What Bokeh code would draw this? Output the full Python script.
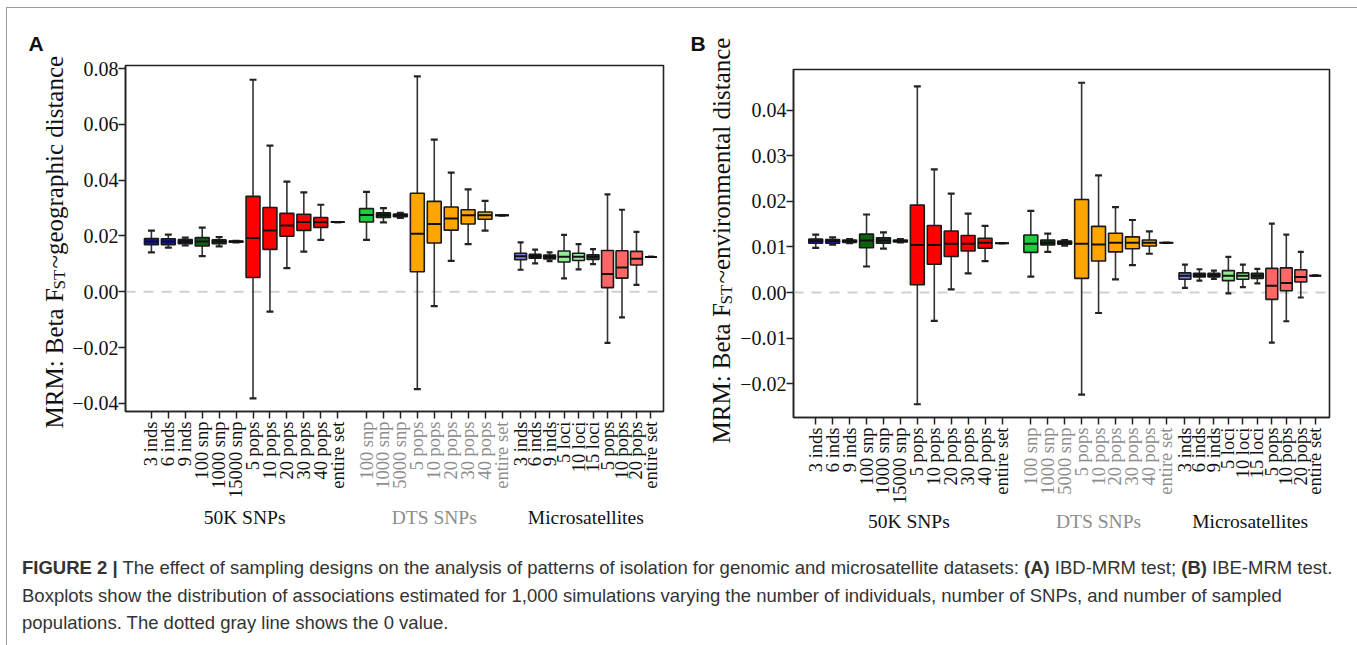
import numpy as np
from bokeh.plotting import figure
from bokeh.models import (ColumnDataSource, FixedTicker, Span, Div, Range1d, CustomJSTickFormatter)
from bokeh.layouts import row, column
from bokeh.embed import file_html
from bokeh.resources import INLINE
from bokeh.core.properties import value

# ---------------- data ----------------
group_names = ["50K SNPs", "DTS SNPs", "Microsatellites"]
labels_50k = ["3 inds", "6 inds", "9 inds", "100 snp", "1000 snp", "15000 snp",
              "5 pops", "10 pops", "20 pops", "30 pops", "40 pops", "entire set"]
labels_dts = ["100 snp", "1000 snp", "5000 snp", "5 pops", "10 pops", "20 pops",
              "30 pops", "40 pops", "entire set"]
labels_msat = ["3 inds", "6 inds", "9 inds", "5 loci", "10 loci", "15 loci",
               "5 pops", "10 pops", "20 pops", "entire set"]

colors_50k = ["#1212C4", "#1212C4", "#10102E", "#0A640A", "#0F3A0F", "#111111",
              "#FF0000", "#FF0000", "#FF0000", "#FF0000", "#FF0000", "#FF0000"]
colors_dts = ["#1FCC40", "#0F3A0F", "#111111", "#FFA500", "#FFA500", "#FFA500",
              "#FFA500", "#FFA500", "#FFA500"]
colors_msat = ["#7B7BDB", "#10102E", "#10102E", "#90EE90", "#90EE90", "#1E4A1E",
               "#FF6666", "#FF6666", "#FF6666", "#FF6666"]

# Panel A (IBD): whisker high, Q3, median, Q1, whisker low  (50K | DTS | Microsat)
A_high = [0.0219, 0.0205, 0.0194, 0.0230, 0.0196, 0.0183, 0.0760, 0.0524, 0.0395, 0.0356, 0.0312, 0.0250,
          0.0358, 0.0300, 0.0283, 0.0772, 0.0545, 0.0427, 0.0367, 0.0326, 0.0274,
          0.0177, 0.0151, 0.0141, 0.0204, 0.0171, 0.0153, 0.0349, 0.0294, 0.0215, 0.0125]
A_q3 = [0.0191, 0.0190, 0.0187, 0.0194, 0.0186, 0.0182, 0.0342, 0.0302, 0.0281, 0.0278, 0.0266, 0.0250,
        0.0298, 0.0283, 0.0279, 0.0353, 0.0324, 0.0304, 0.0294, 0.0286, 0.0274,
        0.0138, 0.0134, 0.0132, 0.0146, 0.0138, 0.0133, 0.0148, 0.0147, 0.0145, 0.0125]
A_med = [0.0180, 0.0180, 0.0180, 0.0180, 0.0180, 0.0180, 0.0193, 0.0220, 0.0238, 0.0250, 0.0249, 0.0250,
         0.0275, 0.0274, 0.0274, 0.0208, 0.0243, 0.0263, 0.0274, 0.0274, 0.0274,
         0.0127, 0.0127, 0.0126, 0.0126, 0.0126, 0.0126, 0.0064, 0.0087, 0.0118, 0.0125]
A_q1 = [0.0169, 0.0169, 0.0172, 0.0164, 0.0172, 0.0178, 0.0051, 0.0152, 0.0199, 0.0220, 0.0231, 0.0250,
        0.0250, 0.0266, 0.0269, 0.0072, 0.0175, 0.0221, 0.0243, 0.0260, 0.0274,
        0.0115, 0.0120, 0.0118, 0.0107, 0.0112, 0.0116, 0.0015, 0.0049, 0.0096, 0.0125]
A_low = [0.0141, 0.0158, 0.0166, 0.0128, 0.0163, 0.0177, -0.0382, -0.0071, 0.0085, 0.0144, 0.0186, 0.0250,
         0.0186, 0.0249, 0.0265, -0.0349, -0.0051, 0.0111, 0.0171, 0.0219, 0.0274,
         0.0079, 0.0102, 0.0110, 0.0048, 0.0080, 0.0099, -0.0183, -0.0092, 0.0025, 0.0125]

# Panel B (IBE)
B_high = [0.0127, 0.0121, 0.0117, 0.0171, 0.0132, 0.0117, 0.0452, 0.0270, 0.0217, 0.0173, 0.0146, 0.0108,
          0.0179, 0.0129, 0.0115, 0.0460, 0.0257, 0.0187, 0.0159, 0.0134, 0.0109,
          0.0061, 0.0051, 0.0048, 0.0078, 0.0061, 0.0052, 0.0151, 0.0127, 0.0089, 0.0037]
B_q3 = [0.0117, 0.0116, 0.0115, 0.0128, 0.0120, 0.0115, 0.0192, 0.0147, 0.0135, 0.0125, 0.0119, 0.0108,
        0.0126, 0.0115, 0.0113, 0.0204, 0.0145, 0.0130, 0.0122, 0.0115, 0.0109,
        0.0043, 0.0042, 0.0042, 0.0048, 0.0043, 0.0042, 0.0053, 0.0054, 0.0050, 0.0037]
B_med = [0.0113, 0.0113, 0.0113, 0.0114, 0.0114, 0.0113, 0.0104, 0.0104, 0.0107, 0.0107, 0.0109, 0.0108,
         0.0107, 0.0109, 0.0109, 0.0107, 0.0105, 0.0109, 0.0109, 0.0109, 0.0109,
         0.0037, 0.0038, 0.0038, 0.0037, 0.0037, 0.0037, 0.0015, 0.0021, 0.0034, 0.0037]
B_q1 = [0.0108, 0.0108, 0.0110, 0.0098, 0.0108, 0.0111, 0.0017, 0.0062, 0.0079, 0.0091, 0.0097, 0.0108,
        0.0088, 0.0104, 0.0106, 0.0031, 0.0069, 0.0089, 0.0096, 0.0102, 0.0109,
        0.0029, 0.0034, 0.0034, 0.0026, 0.0029, 0.0031, -0.0015, 0.0004, 0.0023, 0.0037]
B_low = [0.0098, 0.0105, 0.0108, 0.0057, 0.0096, 0.0110, -0.0245, -0.0062, 0.0007, 0.0042, 0.0069, 0.0108,
         0.0035, 0.0089, 0.0103, -0.0224, -0.0045, 0.0029, 0.0060, 0.0085, 0.0109,
         0.0010, 0.0026, 0.0030, -0.0002, 0.0012, 0.0020, -0.0110, -0.0063, -0.0011, 0.0037]

A_ticks = [-0.04, -0.02, 0.0, 0.02, 0.04, 0.06, 0.08]
B_ticks = [-0.02, -0.01, 0.0, 0.01, 0.02, 0.03, 0.04]

# ---------------- layout ----------------
SERIF = "Liberation Serif"
OX, OY = 7, 8          # page position of the content (inside the outer border)
ROW_H = 525
YB = 54                # left border of the panel figures (y-axis)
n50, ndts, nms = len(labels_50k), len(labels_dts), len(labels_msat)
pos = np.concatenate([np.arange(n50), 12.7 + np.arange(ndts), 21.8 + 0.855 * np.arange(nms)])
bw = np.array([0.82] * (n50 + ndts) + [0.70] * nms)
all_labels = labels_50k + labels_dts + labels_msat
all_colors = colors_50k + colors_dts + colors_msat
label_colors = ["#111111"] * n50 + ["#8C8C8C"] * ndts + ["#111111"] * nms
group_mid = [pos[:n50].mean(), pos[n50:n50 + ndts].mean(), pos[n50 + ndts:].mean()]
group_colors = ["#111111", "#8C8C8C", "#111111"]


def bare(width, height, xr, yr, **kw):
    f = figure(width=width, height=height, x_range=xr, y_range=yr, output_backend="svg",
               toolbar_location=None, x_axis_location=None, y_axis_location=None,
               min_border=0, outline_line_color=None, **kw)
    f.xgrid.visible = False
    f.ygrid.visible = False
    f.background_fill_color = "white"
    f.border_fill_color = "white"
    return f


def panel(left_px, col_right, frame, yrange, first_px, stats, ticks, letter, letter_x,
          title_parts, title_x, title_bottom, group_y):
    L, T, W, H = frame
    unit = 17.0
    x0 = -(first_px - L) / unit
    xr = Range1d(x0, x0 + W / unit)
    y0, y1 = yrange
    col_left = L - YB
    col_w = col_right - col_left
    p_h = (T - OY) + H + 9

    p = figure(width=col_w, height=p_h, x_range=xr, y_range=Range1d(y0, y1),
               output_backend="svg", toolbar_location=None,
               min_border_left=YB, min_border_right=col_right - (L + W),
               min_border_top=T - OY, min_border_bottom=9)
    p.xgrid.visible = False
    p.ygrid.visible = False
    p.outline_line_color = "#222222"
    p.outline_line_width = 1.6
    p.background_fill_color = "white"
    p.border_fill_color = "white"

    high, q3, med, q1, low = [np.array(s) for s in stats]
    src = ColumnDataSource(dict(x=pos, l=pos - bw / 2, r=pos + bw / 2, cl=pos - bw / 4, cr=pos + bw / 4,
                                high=high, q3=q3, med=med, q1=q1, low=low, color=all_colors))

    p.add_layout(Span(location=0, dimension="width", line_color="#CFCFCF", line_width=2,
                      line_dash="10 8", level="underlay"))
    p.segment(x0="x", y0="q3", x1="x", y1="high", source=src, line_color="#333333", line_width=1.6)
    p.segment(x0="x", y0="q1", x1="x", y1="low", source=src, line_color="#333333", line_width=1.6)
    p.segment(x0="cl", y0="high", x1="cr", y1="high", source=src, line_color="#222222", line_width=2.2)
    p.segment(x0="cl", y0="low", x1="cr", y1="low", source=src, line_color="#222222", line_width=2.2)
    p.quad(left="l", right="r", top="q3", bottom="q1", source=src, fill_color="color",
           line_color="#1A1A1A", line_width=1.6)
    p.segment(x0="l", y0="med", x1="r", y1="med", source=src, line_color="#111111", line_width=2)

    p.xaxis.ticker = FixedTicker(ticks=list(pos))
    p.xaxis.formatter = CustomJSTickFormatter(code="return ''")
    p.xaxis.major_label_text_font_size = "0px"
    p.xaxis.major_label_standoff = 0
    p.xaxis.major_tick_out = 7
    p.xaxis.major_tick_in = 0
    p.xaxis.minor_tick_out = 0
    p.xaxis.major_tick_line_width = 1.5
    p.xaxis.major_tick_line_color = "#222222"
    p.xaxis.axis_line_color = "#222222"
    p.xaxis.axis_line_width = 1.5

    p.yaxis.ticker = FixedTicker(ticks=ticks)
    p.yaxis.formatter = CustomJSTickFormatter(
        code="return (tick < -1e-9 ? '\u2212' : '') + Math.abs(tick).toFixed(2)")
    p.yaxis.major_tick_out = 7
    p.yaxis.major_tick_in = 0
    p.yaxis.minor_tick_out = 0
    p.yaxis.major_tick_line_width = 1.5
    p.yaxis.major_tick_line_color = "#222222"
    p.yaxis.axis_line_color = "#222222"
    p.yaxis.axis_line_width = 1.5
    p.yaxis.major_label_text_font = SERIF
    p.yaxis.major_label_text_font_size = "20px"
    p.yaxis.major_label_text_color = "#111111"
    p.yaxis.major_label_standoff = 0

    # ---- strip below: category and group labels (shares the x scale) ----
    b_top = OY + p_h
    b_h = ROW_H - p_h
    bot = bare(col_w, b_h, xr, Range1d(b_top + b_h, b_top),
               min_border_left=YB, min_border_right=col_right - (L + W))
    lsrc = ColumnDataSource(dict(x=pos, y=[T + H + 10] * len(pos), text=all_labels, color=label_colors))
    bot.text(x="x", y="y", text="text", source=lsrc, angle=np.pi / 2, text_align="right",
             text_baseline="middle", text_font=value(SERIF), text_font_size=value("18.5px"),
             text_color="color")
    gsrc = ColumnDataSource(dict(x=group_mid, y=[group_y] * 3, text=group_names, color=group_colors))
    bot.text(x="x", y="y", text="text", source=gsrc, text_align="center", text_baseline="middle",
             text_font=value(SERIF), text_font_size=value("19.5px"), text_color="color")

    # ---- strip at left: panel letter and y title ----
    lft_w = col_left - left_px
    lft = bare(lft_w, ROW_H, Range1d(left_px, col_left), Range1d(OY + ROW_H, OY))
    lft.text(x=[letter_x], y=[43], text=[letter], text_align="left", text_baseline="alphabetic",
             text_font=value("Liberation Sans"), text_font_style="bold", text_font_size=value("21px"),
             text_color="#111111")
    t1, t2, t3 = title_parts
    fs = 25
    w1 = 5.562 * fs
    w2 = 1.167 * 17 + 1
    tsrc = ColumnDataSource(dict(x=[title_x, title_x + 5, title_x],
                                 y=[title_bottom, title_bottom - w1, title_bottom - w1 - w2],
                                 text=[t1, t2, t3], size=["%dpx" % fs, "17px", "%dpx" % fs]))
    lft.text(x="x", y="y", text="text", source=tsrc, angle=np.pi / 2, text_align="left",
             text_baseline="middle", text_font=value(SERIF), text_font_size="size",
             text_color="#111111")

    return lft, column(p, bot)


lftA, colA = panel(OX, 680, (123, 65, 540, 346), (-0.0429, 0.0811), 149,
                   (A_high, A_q3, A_med, A_q1, A_low), A_ticks, "A", 28,
                   ("MRM: Beta F", "ST", "~geographic distance"), 54, 428, 517)
lftB, colB = panel(680, 1348, (791, 69, 538, 348), (-0.02741, 0.04890), 813.3,
                   (B_high, B_q3, B_med, B_q1, B_low), B_ticks, "B", 690,
                   ("MRM: Beta F", "ST", "~environmental distance"), 721, 443, 521)

caption = Div(width=1341, height=104, text=(
    "<div style=\"font-family:'Liberation Sans',Arial,sans-serif;font-size:18.5px;line-height:27.5px;"
    "color:#333;padding:16px 0 0 10px;white-space:nowrap;\">"
    "<b>FIGURE 2 |</b> The effect of sampling designs on the analysis of patterns of isolation for genomic "
    "and microsatellite datasets: <b>(A)</b> IBD-MRM test; <b>(B)</b> IBE-MRM test.<br>"
    "Boxplots show the distribution of associations estimated for 1,000 simulations varying the number of "
    "individuals, number of SNPs, and number of sampled<br>"
    "populations. The dotted gray line shows the 0 value.</div>"))

layout = column(row(lftA, colA, lftB, colB), caption,
                styles={"border": "1px solid #9A9A9A", "margin-left": "6px", "margin-top": "7px"})

open("out.html", "w").write(file_html(layout, INLINE))
